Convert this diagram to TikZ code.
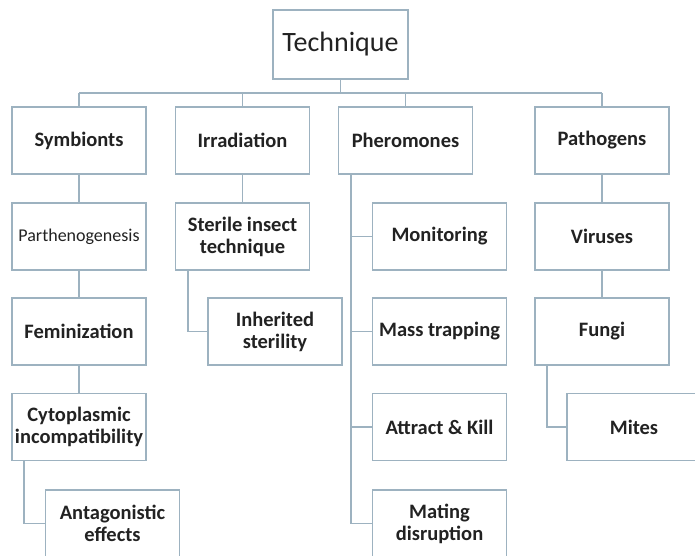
\documentclass[tikz,border=0pt]{standalone}
\usepackage{fontspec}
\setmainfont{Carlito}
\definecolor{edge}{HTML}{9DB2C0}
\definecolor{txt}{HTML}{222222}
\begin{document}
\begin{tikzpicture}[x=1pt,y=-1pt,
  box/.style={draw=edge,line width=1.8pt,fill=white,minimum width=134pt,minimum height=67pt,
    inner sep=0pt,align=center,text=txt,font=\fontsize{20.5}{22}\selectfont\bfseries},
  conn/.style={draw=edge,line width=1.8pt}]
\useasboundingbox (0,0) rectangle (695,555);
\fill[white] (0,0) rectangle (695,555);
\begin{scope}
\clip (0,0) rectangle (695,555);
% root
\node[box,minimum width=135pt,minimum height=69pt,font=\fontsize{28}{30}\selectfont] (tech) at (340.5,44.5) {Technique};
% row 1
\node[box] (sym) at (79,140.5) {Symbionts};
\node[box] (irr) at (242.5,140.5) {Irradiation};
\node[box] (phe) at (405.5,140.5) {Pheromones};
\node[box] (pat) at (602,140.5) {Pathogens};
% Symbionts column
\node[box,font=\fontsize{18}{20}\selectfont] (par) at (79,236.5) {Parthenogenesis};
\node[box] (fem) at (79,331.5) {Feminization};
\node[box] (cyt) at (79,427) {Cytoplasmic\\incompatibility};
\node[box] (ant) at (112.5,523.5) {Antagonistic\\effects};
% Irradiation column
\node[box] (sit) at (242.5,236.5) {Sterile insect\\technique};
\node[box] (inh) at (275,331.5) {Inherited\\sterility};
% Pheromones column
\node[box] (mon) at (439.5,236.5) {Monitoring};
\node[box] (mas) at (439.5,331.5) {Mass trapping};
\node[box] (att) at (439.5,427) {Attract \& Kill};
\node[box] (mat) at (439.5,523.5) {Mating\\disruption};
% Pathogens column
\node[box] (vir) at (602,236.5) {Viruses};
\node[box] (fun) at (602,331.5) {Fungi};
\node[box] (mit) at (634,427) {Mites};
% connectors
\coordinate (bus) at (0,93);
\draw[conn] (tech.south) -- (tech.south |- bus);
\draw[conn] (sym.north |- bus) -- (pat.north |- bus);
\foreach \n in {sym,irr,phe,pat} \draw[conn] (\n.north |- bus) -- (\n.north);
\draw[conn] (sym) -- (par);
\draw[conn] (par) -- (fem);
\draw[conn] (fem) -- (cyt);
\draw[conn] ([xshift=13pt]cyt.south west) |- (ant.west);
\draw[conn] (irr) -- (sit);
\draw[conn] ([xshift=13pt]sit.south west) |- (inh.west);
\draw[conn] ([xshift=13pt]phe.south west) |- (mat.west);
\foreach \n in {mon,mas,att} \draw[conn] ([xshift=13pt]phe.south west |- \n.west) -- (\n.west);
\draw[conn] (pat) -- (vir);
\draw[conn] (vir) -- (fun);
\draw[conn] ([xshift=13pt]fun.south west) |- (mit.west);
\end{scope}
\end{tikzpicture}
\end{document}
